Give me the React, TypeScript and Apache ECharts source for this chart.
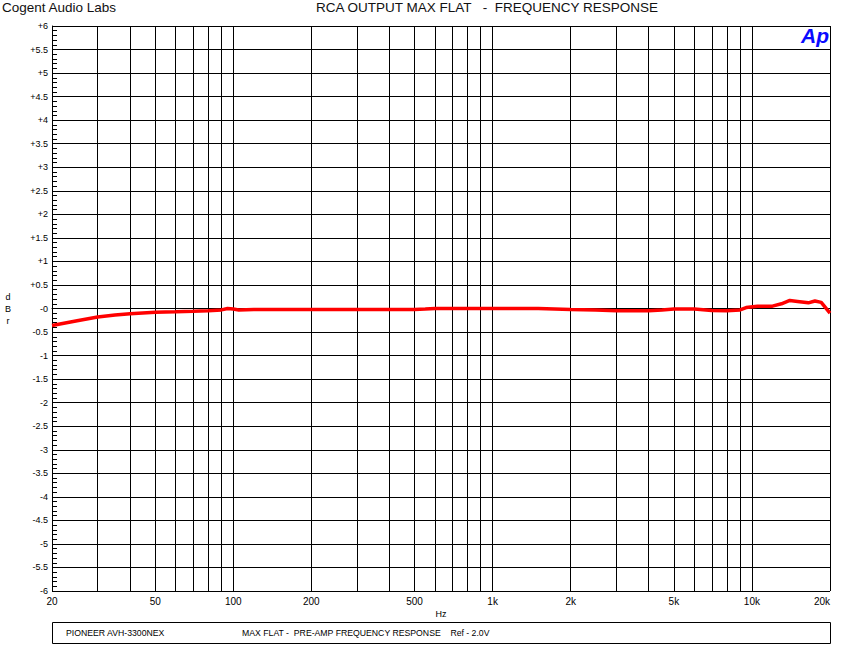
import React, { useEffect, useRef } from "react";
import * as echarts from "echarts";

const freqHz = [20, 25, 30, 35, 40, 50, 60, 70, 80, 90, 95, 100, 105, 120, 200, 300, 500, 550, 600, 1000, 1500, 2000, 2500, 3000, 4000, 4500, 5000, 6000, 7000, 8000, 9000, 9500, 10500, 12000, 13000, 14000, 15000, 16500, 17500, 18500, 20000];
const levelDbr = [-0.36, -0.26, -0.18, -0.14, -0.11, -0.08, -0.07, -0.06, -0.05, -0.03, 0.0, -0.01, -0.03, -0.02, -0.02, -0.02, -0.02, -0.01, 0.0, 0.0, 0.0, -0.02, -0.03, -0.05, -0.05, -0.03, -0.01, -0.01, -0.04, -0.05, -0.03, 0.02, 0.05, 0.05, 0.1, 0.17, 0.15, 0.12, 0.16, 0.13, -0.1];

const gridFreqs = [20, 30, 40, 50, 60, 70, 80, 90, 100, 200, 300, 400, 500, 600, 700, 800, 900, 1000, 2000, 3000, 4000, 5000, 6000, 7000, 8000, 9000, 10000, 20000];
const labelFreqs = [20, 50, 100, 200, 500, 1000, 2000, 5000, 10000, 20000];

const titleLeft = "Cogent Audio Labs";
const titleMain = "RCA OUTPUT MAX FLAT\u00a0\u00a0\u00a0-\u00a0\u00a0FREQUENCY RESPONSE";
const footerLeft = "PIONEER AVH-3300NEX";
const footerMid = "MAX FLAT -\u00a0\u00a0PRE-AMP FREQUENCY RESPONSE\u00a0\u00a0\u00a0\u00a0Ref - 2.0V";

const FONT = "'Liberation Sans', Arial, sans-serif";

export default function App() {
  const ref = useRef<HTMLDivElement>(null);
  useEffect(() => {
    if (!ref.current) return;
    const chart = echarts.init(ref.current, null, { renderer: "svg" });
    const data = freqHz.map((f, i) => [Math.log10(f), levelDbr[i]]);
    chart.setOption({
      animation: false,
      backgroundColor: "#ffffff",
      textStyle: { fontFamily: FONT },
      grid: { left: 52, top: 26, width: 778, height: 565, containLabel: false },
      xAxis: {
        type: "value",
        min: Math.log10(20),
        max: Math.log10(20000),
        axisLine: { show: true, lineStyle: { color: "#000", width: 1 } },
        axisTick: { show: false, customValues: gridFreqs.map((f) => Math.log10(f)) },
        splitLine: { show: true, lineStyle: { color: "#000", width: 1 } },
        axisLabel: {
          customValues: labelFreqs.map((f) => Math.log10(f)),
          formatter: (v: number) => {
            const f = Math.round(Math.pow(10, v));
            return f >= 1000 ? f / 1000 + "k" : String(f);
          },
          alignMaxLabel: "right",
          color: "#000",
          fontSize: 10,
          fontFamily: FONT,
          margin: 5,
        },
      },
      yAxis: {
        type: "value",
        min: -6,
        max: 6,
        interval: 0.5,
        axisLine: { show: true, lineStyle: { color: "#000", width: 1 } },
        axisTick: { show: true, inside: true, length: 5, lineStyle: { color: "#000" } },
        minorTick: { show: true, splitNumber: 5, length: 5, lineStyle: { color: "#000" } },
        splitLine: { show: true, lineStyle: { color: "#000", width: 1 } },
        axisLabel: {
          formatter: (v: number) => (v > 0 ? "+" + v : v === 0 ? "-0" : String(v)),
          color: "#000",
          fontSize: 9,
          fontFamily: FONT,
          margin: 4,
        },
      },
      series: [
        {
          type: "line",
          data,
          showSymbol: false,
          symbol: "none",
          lineStyle: { color: "#ff0000", width: 3.5 },
          z: 5,
        },
      ],
      graphic: [
        { type: "text", left: 2, top: 0, style: { text: titleLeft, font: `13.5px ${FONT}`, fill: "#111" } },
        { type: "text", x: 487, y: 0, style: { text: titleMain, font: `13.5px ${FONT}`, fill: "#111", textAlign: "center" } },
        { type: "text", x: 801, y: 25, style: { text: "Ap", font: `italic bold 21px ${FONT}`, fill: "#0a0aff" } },
        { type: "text", x: 8, y: 297, style: { text: "d", font: `9px ${FONT}`, fill: "#000", textAlign: "center", textVerticalAlign: "middle" } },
        { type: "text", x: 8, y: 309, style: { text: "B", font: `9px ${FONT}`, fill: "#000", textAlign: "center", textVerticalAlign: "middle" } },
        { type: "text", x: 8, y: 321, style: { text: "r", font: `9px ${FONT}`, fill: "#000", textAlign: "center", textVerticalAlign: "middle" } },
        { type: "text", x: 441, y: 614, style: { text: "Hz", font: `9px ${FONT}`, fill: "#000", textAlign: "center", textVerticalAlign: "middle" } },
        { type: "rect", shape: { x: 52.5, y: 622.5, width: 778, height: 21 }, style: { fill: "none", stroke: "#000", lineWidth: 1 } },
        { type: "text", x: 66, y: 633, style: { text: footerLeft, font: `8.7px ${FONT}`, fill: "#000", textVerticalAlign: "middle" } },
        { type: "text", x: 242, y: 633, style: { text: footerMid, font: `8.7px ${FONT}`, fill: "#000", textVerticalAlign: "middle" } },
      ],
    });
    return () => chart.dispose();
  }, []);
  return (
    <div
      ref={ref}
      style={{ position: "fixed", left: 0, top: 0, width: 848, height: 659, background: "#fff" }}
    />
  );
}
